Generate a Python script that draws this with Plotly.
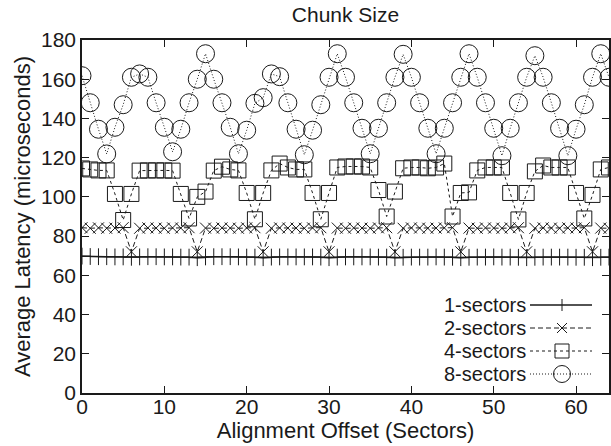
import plotly.graph_objects as go

offsets = list(range(0, 65))

sectors_1 = [69.8, 69.6, 69.5, 69.5, 69.4, 69.4, 69.2, 69.4,
             69.5, 69.5, 69.4, 69.4, 69.3, 69.3, 69.0, 69.4,
             69.5, 69.5, 69.5, 69.4, 69.3, 69.3, 69.0, 69.3,
             69.4, 69.4, 69.4, 69.4, 69.4, 69.3, 69.0, 69.3,
             69.4, 69.4, 69.4, 69.4, 69.3, 69.3, 69.0, 69.2,
             69.3, 69.3, 69.3, 69.4, 69.3, 69.2, 69.0, 69.2,
             69.3, 69.3, 69.4, 69.3, 69.3, 69.2, 69.0, 69.2,
             69.3, 69.3, 69.3, 69.3, 69.2, 69.2, 69.0, 69.2,
             69.3]

sectors_2 = [84.3, 84.0, 84.2, 84.0, 84.1, 84.3, 72.0, 84.0,
             84.2, 84.1, 84.0, 84.2, 84.1, 84.3, 72.0, 84.1,
             84.0, 84.2, 84.1, 84.0, 84.2, 84.3, 72.0, 84.0,
             84.2, 84.1, 84.1, 84.0, 84.2, 84.3, 72.0, 84.1,
             84.0, 84.2, 84.1, 84.0, 84.2, 84.3, 72.0, 84.0,
             84.2, 84.1, 84.0, 84.1, 84.2, 84.3, 72.0, 84.1,
             84.0, 84.2, 84.1, 84.0, 84.2, 84.3, 72.0, 84.0,
             84.2, 84.1, 84.0, 84.2, 84.1, 84.3, 72.0, 84.1,
             84.0]

sectors_4 = [114.5, 114.0, 113.5, 113.5, 101.5, 88.2, 101.5, 113.4,
             113.5, 113.5, 113.5, 113.4, 101.5, 89.0, 100.0, 102.7,
             113.4, 115.4, 114.0, 113.5, 102.0, 88.6, 102.0, 113.5,
             117.0, 115.0, 114.0, 114.0, 102.0, 88.6, 102.0, 115.0,
             115.5, 115.5, 115.5, 115.0, 103.5, 90.0, 102.7, 114.6,
             115.0, 115.0, 114.6, 115.0, 117.0, 90.0, 102.0, 102.3,
             113.5, 115.0, 115.0, 115.0, 102.0, 88.5, 102.0, 113.0,
             116.0, 115.0, 115.0, 115.0, 102.0, 89.0, 101.0, 114.0,
             115.0]

sectors_8 = [161.8, 148.0, 134.5, 121.9, 135.5, 147.0, 161.0, 162.7,
             161.0, 148.0, 135.5, 123.0, 134.5, 148.0, 160.0, 173.0,
             160.0, 148.0, 135.5, 122.0, 134.0, 147.7, 150.6, 162.7,
             161.3, 148.0, 134.5, 121.5, 134.0, 147.0, 161.0, 173.0,
             161.0, 148.0, 135.0, 122.0, 135.0, 148.0, 161.0, 172.7,
             161.0, 148.0, 135.0, 122.0, 135.0, 148.0, 161.0, 173.0,
             161.0, 148.0, 135.0, 121.0, 135.0, 148.0, 161.0, 172.0,
             161.0, 148.0, 135.0, 121.0, 134.5, 147.0, 161.0, 173.0,
             161.0]

series_names = ["1-sectors", "2-sectors", "4-sectors", "8-sectors"]
x_ticks = [0, 10, 20, 30, 40, 50, 60]
y_ticks = [0, 20, 40, 60, 80, 100, 120, 140, 160, 180]

FONT = "Liberation Sans, Arial, Helvetica, sans-serif"
INK = "#1a1a1a"

W, H = 611, 446
ML, MR, MT, MB = 82, 2, 40, 53
PW, PH = W - ML - MR, H - MT - MB


def px(x):
    return (x - ML) / PW


def py(y):
    return (H - MB - y) / PH


styles = [
    dict(dash="solid", width=1.4, symbol="cross-thin-open", size=12, mk="plus"),
    dict(dash="5px,3px", width=1, symbol="x-thin-open", size=11, mk="x"),
    dict(dash="3px,3px", width=1, symbol="square-open", size=15, mk="square"),
    dict(dash="1px,2px", width=1, symbol="circle-open", size=18, mk="circle"),
]

fig = go.Figure()
for name, ys, st in zip(series_names, [sectors_1, sectors_2, sectors_4, sectors_8], styles):
    fig.add_trace(go.Scatter(
        x=offsets, y=ys, name=name, mode="lines+markers", showlegend=False,
        line=dict(color=INK, width=st["width"], dash=st["dash"]),
        marker=dict(symbol=st["symbol"], size=st["size"], color=INK,
                    line=dict(color=INK, width=1)),
    ))

# legend (gnuplot style: text on the left, sample on the right)
shapes = []
annotations = []
row_y = [305, 328, 351, 374]
text_right = 528
s_x0, s_x1, s_mid = 530, 592, 562
for name, st, ry in zip(series_names, styles, row_y):
    annotations.append(dict(
        x=px(text_right), y=py(ry), xref="paper", yref="paper",
        xanchor="right", yanchor="middle", showarrow=False, text=name,
        font=dict(family=FONT, size=20, color=INK)))
    shapes.append(dict(type="line", xref="paper", yref="paper",
                       x0=px(s_x0), x1=px(s_x1), y0=py(ry), y1=py(ry),
                       line=dict(color=INK, width=st["width"], dash=st["dash"])))
    if st["mk"] == "circle":
        r = 8.5
        shapes.append(dict(type="circle", xref="paper", yref="paper",
                           x0=px(s_mid - r), x1=px(s_mid + r), y0=py(ry + r), y1=py(ry - r),
                           line=dict(color=INK, width=1), fillcolor="rgba(0,0,0,0)"))
    elif st["mk"] == "square":
        r = 7
        shapes.append(dict(type="rect", xref="paper", yref="paper",
                           x0=px(s_mid - r), x1=px(s_mid + r), y0=py(ry + r), y1=py(ry - r),
                           line=dict(color=INK, width=1), fillcolor="rgba(0,0,0,0)"))
    elif st["mk"] == "x":
        r = 5
        for a, b in [(-r, -r), (-r, r)]:
            shapes.append(dict(type="line", xref="paper", yref="paper",
                               x0=px(s_mid + a), x1=px(s_mid - a), y0=py(ry + b), y1=py(ry - b),
                               line=dict(color=INK, width=1)))
    else:
        r = 6
        shapes.append(dict(type="line", xref="paper", yref="paper",
                           x0=px(s_mid), x1=px(s_mid), y0=py(ry + r), y1=py(ry - r),
                           line=dict(color=INK, width=1)))

fig.update_layout(
    width=W, height=H,
    margin=dict(l=ML, r=MR, t=MT, b=MB, autoexpand=False),
    paper_bgcolor="white", plot_bgcolor="white",
    font=dict(family=FONT, size=21, color=INK),
    title=dict(text="Chunk Size", xref="paper", x=0.5, xanchor="center",
               yref="container", y=1 - 15 / H, yanchor="middle",
               font=dict(family=FONT, size=21, color=INK)),
    showlegend=False,
    shapes=shapes,
    annotations=annotations,
)

fig.update_xaxes(
    range=[0, 64], tickvals=x_ticks, ticks="inside", ticklen=7, tickcolor=INK,
    showline=True, linecolor=INK, linewidth=1.5, mirror="ticks",
    showgrid=False, zeroline=False, automargin=False, ticklabelstandoff=-6,
    title=dict(text="Alignment Offset (Sectors)", standoff=0, font=dict(size=22)),
    tickfont=dict(size=21),
)
fig.update_yaxes(
    range=[0, 180], tickvals=y_ticks, ticks="inside", ticklen=7, tickcolor=INK,
    showline=True, linecolor=INK, linewidth=1.5, mirror="ticks",
    showgrid=False, zeroline=False, automargin=False,
    title=dict(text="Average Latency (microseconds)", standoff=4, font=dict(size=22)),
    tickfont=dict(size=21),
)

fig.write_html("out.html", config={"displayModeBar": False},
               post_script="document.body.style.margin='0';")
